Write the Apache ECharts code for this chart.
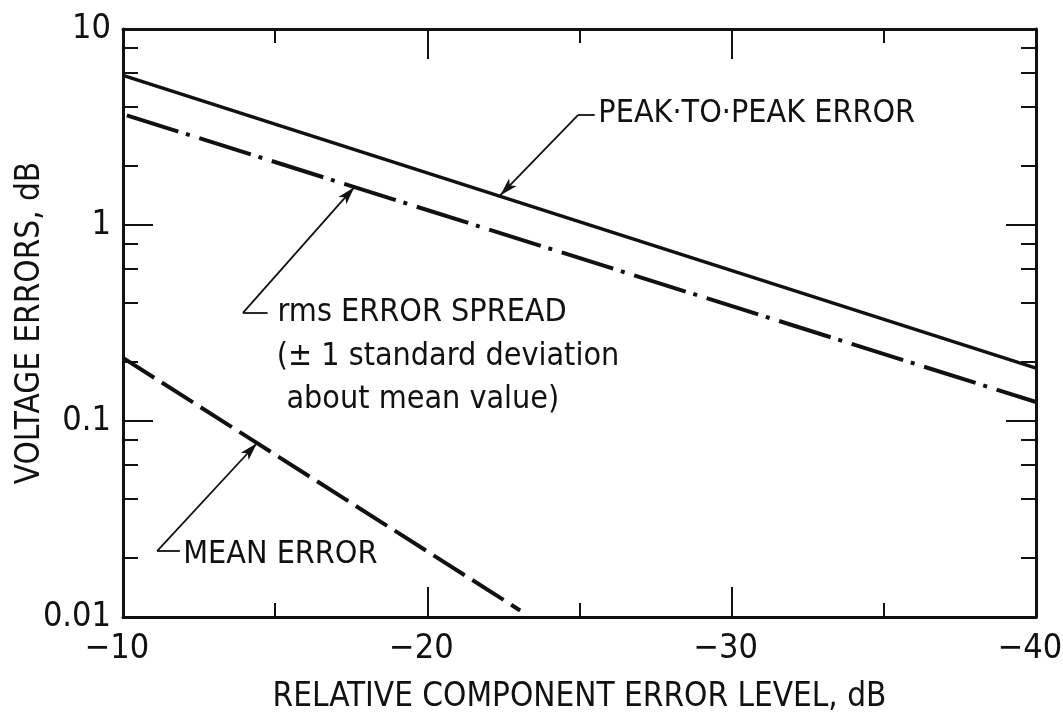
<!DOCTYPE html>
<html>
<head>
<meta charset="utf-8">
<title>Voltage errors vs relative component error level</title>
<script src="https://cdn.jsdelivr.net/npm/echarts@6/dist/echarts.min.js"></script>
<style>
  html, body { margin: 0; padding: 0; background: #ffffff; }
  #chart { width: 1063px; height: 719px; }
</style>
</head>
<body>
<div id="chart"></div>
<script>
const FONT = '"Liberation Sans Narrow", "DejaVu Sans Condensed", "Arial Narrow", sans-serif';
const INK = '#111111';

// Relative component error level (dB) at the ends of the two straight curves
const levelEnds = [-10, -40];
const peakToPeakError = [5.8, 0.186];
const rmsErrorSpread = [3.68, 0.125];

// Mean error runs out of the plot near -23 dB
const meanLevels = [-10, -23.05];
const meanError = [0.21, 0.0108];

// Axis ticks
const xTickValues = [-10, -20, -30, -40];
const yTickValues = [0.01, 0.1, 1, 10];
const yTickLabels = ['0.01', '0.1', '1', '10'];
const yMinorTickValues = [0.02, 0.04, 0.06, 0.08, 0.2, 0.4, 0.6, 0.8, 2, 4, 6, 8];

// Curve labels and their leader arrows, in data coordinates
const notes = [
  { text: 'PEAK·TO·PEAK ERROR', at: [-25.62, 3.68] },
  { text: 'rms ERROR SPREAD', at: [-15.08, 0.356] },
  { text: '(± 1 standard deviation', at: [-15.05, 0.212] },
  { text: 'about mean value)', at: [-15.37, 0.128] },
  { text: 'MEAN ERROR', at: [-11.98, 0.0207] }
];
const leaders = [
  { end: [-25.5, 3.64], bend: [-24.95, 3.64], tip: [-22.4, 1.42] },
  { end: [-14.75, 0.356], bend: [-13.94, 0.356], tip: [-17.6, 1.56] },
  { end: [-11.87, 0.0217], bend: [-11.12, 0.0217], tip: [-14.4, 0.077] }
];

const toPairs = (xs, ys) => xs.map((x, i) => [x, ys[i]]);
const fmtMinus = v => (v < 0 ? '\u2212' : '') + Math.abs(v);

const chart = echarts.init(document.getElementById('chart'), null, { renderer: 'canvas' });

const axisLine = { show: true, onZero: false, lineStyle: { color: INK, width: 3 } };

function xAxis(position, withLabels) {
  return {
    type: 'value',
    position: position,
    min: -40,
    max: -10,
    interval: 10,
    inverse: true,
    axisLine: axisLine,
    splitLine: { show: false },
    axisTick: { show: true, inside: true, length: 30, lineStyle: { color: INK, width: 2 } },
    minorTick: { show: true, splitNumber: 2, length: 14, lineStyle: { color: INK, width: 2 } },
    axisLabel: withLabels ? {
      show: true,
      margin: 15,
      padding: [0, 12, 0, 0],
      formatter: fmtMinus,
      color: INK,
      fontFamily: FONT,
      fontSize: 34
    } : { show: false },
    name: withLabels ? 'RELATIVE COMPONENT ERROR LEVEL, dB' : '',
    nameLocation: 'middle',
    nameGap: 64,
    nameTextStyle: { color: INK, fontFamily: FONT, fontSize: 33 }
  };
}

function yAxis(position, ticks, tickLen, withLabels, withLine) {
  return {
    type: 'log',
    logBase: 10,
    position: position,
    min: 0.01,
    max: 10,
    offset: 0,
    axisLine: withLine ? axisLine : { show: false },
    splitLine: { show: false },
    minorTick: { show: false },
    axisTick: {
      show: true,
      inside: true,
      length: tickLen,
      customValues: ticks,
      lineStyle: { color: INK, width: 2 }
    },
    axisLabel: withLabels ? {
      show: true,
      margin: 12,
      customValues: yTickValues,
      formatter: v => {
        const i = yTickValues.findIndex(t => Math.abs(Math.log10(t) - Math.log10(v)) < 1e-6);
        return i >= 0 ? yTickLabels[i] : '';
      },
      color: INK,
      fontFamily: FONT,
      fontSize: 34
    } : { show: false },
    name: withLabels ? 'VOLTAGE ERRORS, dB' : '',
    nameLocation: 'middle',
    nameRotate: 90,
    nameGap: 76,
    nameMoveOverlap: false,
    nameTextStyle: { color: INK, fontFamily: FONT, fontSize: 33 }
  };
}

// Leader lines: a short horizontal stroke beside the text, then a thin arrow to the curve
const leaderLines = [];
leaders.forEach(l => {
  leaderLines.push([
    { coord: l.end, symbol: 'none' },
    { coord: l.bend, symbol: 'none' }
  ]);
  leaderLines.push([
    { coord: l.bend, symbol: 'none' },
    { coord: l.tip, symbol: 'arrow', symbolSize: [8, 18] }
  ]);
});

const option = {
  backgroundColor: '#ffffff',
  animation: false,
  grid: {
    left: 123, right: 27, top: 29, bottom: 102,
    containLabel: false,
    outerBoundsMode: 'none'
  },
  xAxis: [xAxis('bottom', true), xAxis('top', false)],
  yAxis: [
    yAxis('left', yTickValues, 30, true, true),
    yAxis('left', yMinorTickValues, 15, false, false),
    yAxis('right', yTickValues, 30, false, true),
    yAxis('right', yMinorTickValues, 15, false, false)
  ],
  series: [
    {
      name: 'PEAK-TO-PEAK ERROR',
      type: 'line',
      data: toPairs(levelEnds, peakToPeakError),
      showSymbol: false,
      symbol: 'none',
      silent: true,
      lineStyle: { color: INK, width: 3.5, type: 'solid' }
    },
    {
      name: 'rms ERROR SPREAD',
      type: 'line',
      data: toPairs(levelEnds, rmsErrorSpread),
      showSymbol: false,
      symbol: 'none',
      silent: true,
      lineStyle: { color: INK, width: 4, type: [54, 8, 4, 10], dashOffset: 72, cap: 'butt' }
    },
    {
      name: 'MEAN ERROR',
      type: 'line',
      data: toPairs(meanLevels, meanError),
      showSymbol: false,
      symbol: 'none',
      silent: true,
      lineStyle: { color: INK, width: 4, type: [37, 9], cap: 'butt' }
    },
    {
      name: 'notes',
      type: 'scatter',
      silent: true,
      symbolSize: 0,
      itemStyle: { color: INK, opacity: 1 },
      label: {
        show: true,
        position: 'right',
        distance: 0,
        color: INK,
        opacity: 1,
        fontFamily: FONT,
        fontSize: 32,
        formatter: p => notes[p.dataIndex].text
      },
      data: notes.map(n => n.at),
      markLine: {
        silent: true,
        animation: false,
        symbol: ['none', 'none'],
        label: { show: false },
        emphasis: { disabled: true },
        lineStyle: { color: INK, width: 1.8, type: 'solid', opacity: 1 },
        data: leaderLines
      }
    }
  ]
};

chart.setOption(option);
</script>
</body>
</html>
